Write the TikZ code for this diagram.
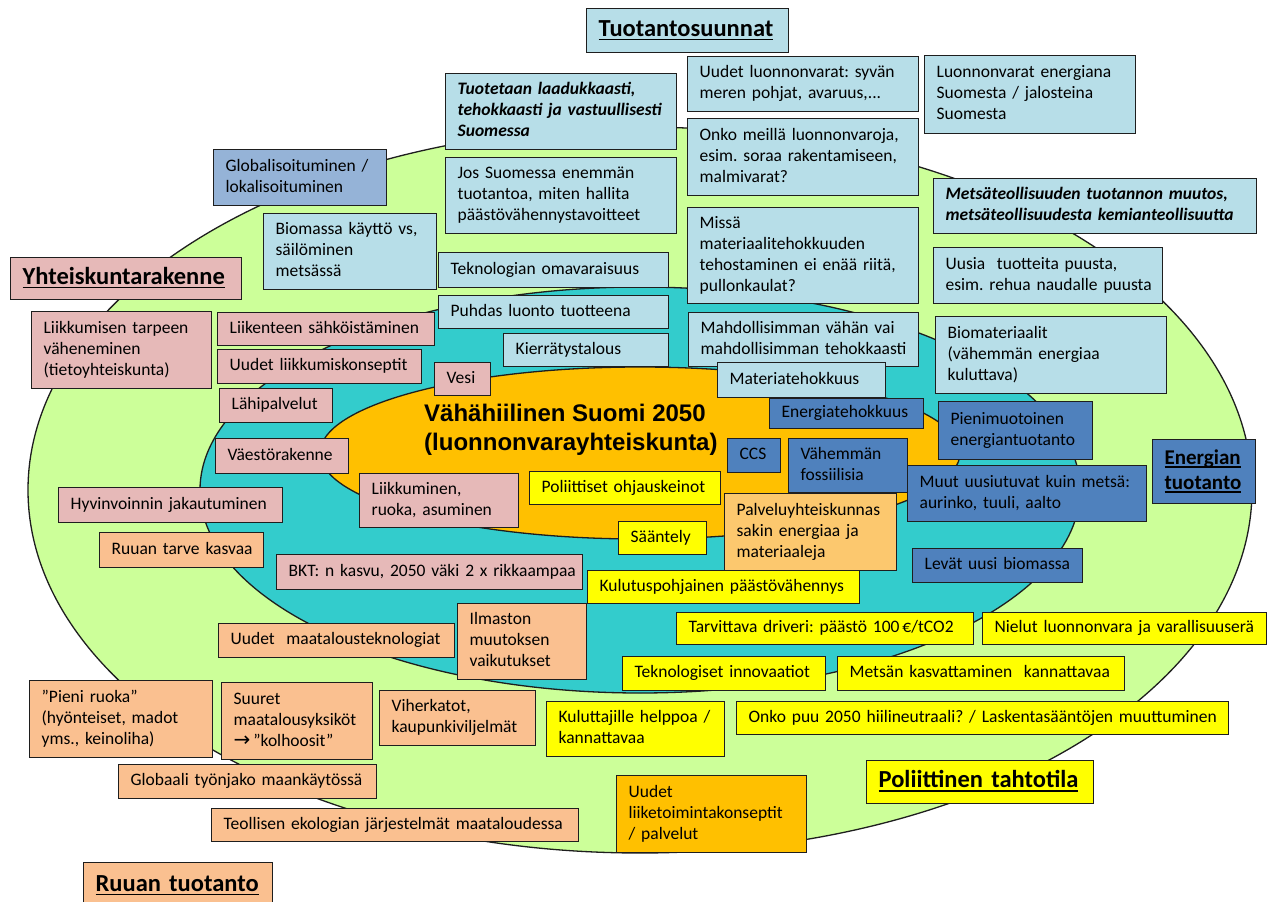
\documentclass[tikz,border=0pt]{standalone}
\usepackage{fontspec}
\setmainfont{Carlito}
\newfontfamily\arialb{Liberation Sans}
\newfontfamily\dejavu{DejaVu Sans}
\frenchspacing
\newcommand{\myul}[1]{\setbox0\hbox{#1}\rlap{\rule[-4pt]{\wd0}{1.8pt}}\box0}
\definecolor{cgreen}{RGB}{204,255,153}
\definecolor{ccyan}{RGB}{51,204,204}
\definecolor{corange}{RGB}{255,192,0}
\definecolor{clblue}{RGB}{183,222,232}
\definecolor{cmblue}{RGB}{149,179,215}
\definecolor{cdblue}{RGB}{79,129,189}
\definecolor{cpink}{RGB}{230,185,184}
\definecolor{cpeach}{RGB}{250,192,144}
\definecolor{cpalv}{RGB}{252,200,110}
\definecolor{cgold}{RGB}{255,192,0}
\definecolor{cyellow}{RGB}{255,255,0}
\definecolor{cline}{RGB}{30,30,30}
\newcommand{\tlines}[1]{\begin{tabular}{@{}l@{}}#1\end{tabular}}
\newcommand{\bx}[7]{%
  \pgfmathsetmacro\bxW{#4-#2}\pgfmathsetmacro\bxH{#5-#3}\pgfmathsetmacro\bxT{#4-#2-24}%
  \node[box,#6,minimum width=\bxW pt,minimum height=\bxH pt,text width=\bxT pt] (#1) at (#2,#3) {\noindent\frenchspacing\tlines{#7}};}
\tikzset{
  box/.style={draw=cline, line width=1.3pt, anchor=north west, inner xsep=12pt, inner ysep=0pt,
    font=\fontsize{17.5}{21}\selectfont, text=black},
  lb/.style={fill=clblue}, mb/.style={fill=cmblue}, db/.style={fill=cdblue},
  pk/.style={fill=cpink}, pe/.style={fill=cpeach}, pv/.style={fill=cpalv},
  gd/.style={fill=cgold}, ye/.style={fill=cyellow},
  ttl/.style={font=\fontsize{24.5}{29}\selectfont\bfseries},
  ttls/.style={font=\fontsize{21}{25}\selectfont\bfseries},
  bi/.style={font=\fontsize{17.5}{21}\selectfont\bfseries\itshape},
  ell/.style={draw=cline, line width=1.3pt}
}
\begin{document}
\begin{tikzpicture}[x=1pt,y=-1pt]
\clip (0,0) rectangle (1270,902);
\fill[white] (0,0) rectangle (1270,902);
% ellipses
\draw[ell,fill=cgreen] (640,490) ellipse [x radius=612, y radius=363];
\draw[ell,fill=ccyan] (640,490) ellipse [x radius=440, y radius=203];
\draw[ell,fill=corange] (640,453) ellipse [x radius=320, y radius=86];
\node[font=\arialb\bfseries\fontsize{24}{28.5}\selectfont, align=left, anchor=north west, inner sep=0pt] (main) at (424,404) {Vähähiilinen Suomi 2050\\(luonnonvarayhteiskunta)};
% light blue
\bx{tuot}{586}{8}{788}{52}{lb,ttl}{\myul{Tuotantosuunnat}}
\bx{laatu}{445}{73}{676}{149}{lb,bi}{Tuotetaan laadukkaasti,\\tehokkaasti ja vastuullisesti\\Suomessa}
\bx{jos}{445}{157}{676}{233}{lb}{Jos Suomessa enemmän\\tuotantoa, miten hallita\\päästövähennystavoitteet}
\bx{tekno}{438}{252}{668}{287}{lb}{Teknologian omavaraisuus}
\bx{puhdas}{438}{295}{668}{328}{lb}{Puhdas luonto tuotteena}
\bx{kierr}{503}{333}{668}{366}{lb}{Kierrätystalous}
\bx{uudet}{687}{56}{918}{111}{lb}{Uudet luonnonvarat: syvän\\meren pohjat, avaruus,...}
\bx{onko}{687}{118}{918}{195}{lb}{Onko meillä luonnonvaroja,\\esim. soraa rakentamiseen,\\malmivarat?}
\bx{missa}{687}{207}{918}{303}{lb}{Missä\\materiaalitehokkuuden\\tehostaminen ei enää riitä,\\pullonkaulat?}
\bx{mahd}{688}{312}{918}{366}{lb}{Mahdollisimman vähän vai\\mahdollisimman tehokkaasti}
\bx{mater}{717}{362}{885}{397}{lb}{Materiatehokkuus}
\bx{luonn}{924}{55}{1135}{133}{lb}{Luonnonvarat energiana\\Suomesta / jalosteina\\Suomesta}
\bx{metsa}{933}{178}{1256}{233}{lb,bi}{Metsäteollisuuden tuotannon muutos,\\metsäteollisuudesta kemianteollisuutta}
\bx{uusia}{933}{247}{1162}{303}{lb}{Uusia\ \ tuotteita puusta,\\esim. rehua naudalle puusta}
\bx{biomat}{935}{316}{1166}{393}{lb}{Biomateriaalit\\(vähemmän energiaa\\kuluttava)}
\bx{biomassa}{263}{213}{436}{289}{lb}{Biomassa käyttö vs,\\säilöminen\\metsässä}
\bx{glob}{213}{149}{386}{205}{mb}{Globalisoituminen /\\lokalisoituminen}
% dark blue
\bx{energiat}{769}{398}{923}{428}{db}{Energiatehokkuus}
\bx{ccs}{727}{438}{780}{472}{db}{CCS}
\bx{vahemman}{788}{438}{907}{492}{db}{Vähemmän\\fossiilisia}
\bx{pieni}{938}{401}{1092}{459}{db}{Pienimuotoinen\\energiantuotanto}
\bx{muut}{907}{465}{1146}{521}{db}{Muut uusiutuvat kuin metsä:\\aurinko, tuuli, aalto}
\bx{levat}{912}{548}{1082}{582}{db}{Levät uusi biomassa}
\bx{entuot}{1152}{439}{1255}{503}{db,ttls}{\myul{Energian}\\\myul{tuotanto}}
% pink
\bx{yhteis}{10}{257}{241}{299}{pk,ttl}{\myul{Yhteiskuntarakenne}}
\bx{liikk}{31}{311}{211}{388}{pk}{Liikkumisen tarpeen\\väheneminen\\(tietoyhteiskunta)}
\bx{liiken}{217}{312}{434}{345}{pk}{Liikenteen sähköistäminen}
\bx{uudetl}{217}{349}{421}{383}{pk}{Uudet liikkumiskonseptit}
\bx{lahi}{219}{388}{332}{422}{pk}{Lähipalvelut}
\bx{vaesto}{215}{438}{348}{473}{pk}{Väestörakenne}
\bx{hyvin}{58}{487}{282}{522}{pk}{Hyvinvoinnin jakautuminen}
\bx{vesi}{434}{362}{490}{395}{pk}{Vesi}
\bx{liikrua}{359}{473}{518}{527}{pk}{Liikkuminen,\\ruoka, asuminen}
\bx{bkt}{276}{554}{582}{589}{pk}{BKT: n kasvu, 2050 väki 2 x rikkaampaa}
% peach
\bx{ruuantarve}{99}{532}{263}{567}{pe}{Ruuan tarve kasvaa}
\bx{maatal}{218}{623}{454}{657}{pe}{Uudet\ \ maatalousteknologiat}
\bx{ilmasto}{457}{603}{586}{679}{pe}{Ilmaston\\muutoksen\\vaikutukset}
\bx{pieniruoka}{29}{680}{212}{757}{pe}{”Pieni ruoka”\\(hyönteiset, madot\\yms., keinoliha)}
\bx{suuret}{221}{682}{372}{759}{pe}{Suuret\\maatalousyksiköt\\{\dejavu\fontsize{20}{21}\selectfont →}\,”kolhoosit”}
\bx{viher}{379}{690}{535}{745}{pe}{Viherkatot,\\kaupunkiviljelmät}
\bx{globaali}{118}{764}{376}{798}{pe}{Globaali työnjako maankäytössä}
\bx{teoll}{211}{808}{578}{841}{pe}{Teollisen ekologian järjestelmät maataloudessa}
\bx{ruuantuot}{83}{862}{272}{908}{pe,ttl}{\myul{Ruuan tuotanto}}
\bx{palvelu}{724}{493}{896}{570}{pv}{Palveluyhteiskunnas\\sakin energiaa ja\\materiaaleja}
% gold
\bx{liiketoim}{616}{775}{806}{852}{gd}{Uudet\\liiketoimintakonseptit\\/ palvelut}
% yellow
\bx{poliit}{529}{471}{720}{504}{ye}{Poliittiset ohjauskeinot}
\bx{saant}{618}{521}{706}{554}{ye}{Sääntely}
\bx{kulutus}{587}{570}{859}{603}{ye}{Kulutuspohjainen päästövähennys}
\bx{driveri}{676}{612}{973}{644}{ye}{Tarvittava driveri: päästö 100\,€/tCO2}
\bx{nielut}{982}{612}{1266}{644}{ye}{Nielut luonnonvara ja varallisuuserä}
\bx{teknin}{622}{656}{825}{690}{ye}{Teknologiset innovaatiot}
\bx{metsankasv}{837}{656}{1124}{690}{ye}{Metsän kasvattaminen\ \ kannattavaa}
\bx{kuluttaj}{546}{701}{724}{756}{ye}{Kuluttajille helppoa /\\kannattavaa}
\bx{onkopuu}{736}{701}{1228}{734}{ye}{Onko puu 2050 hiilineutraali? / Laskentasääntöjen muuttuminen}
\bx{poltaht}{866}{760}{1093}{803}{ye,ttl}{\myul{Poliittinen tahtotila}}
\end{tikzpicture}
\end{document}
